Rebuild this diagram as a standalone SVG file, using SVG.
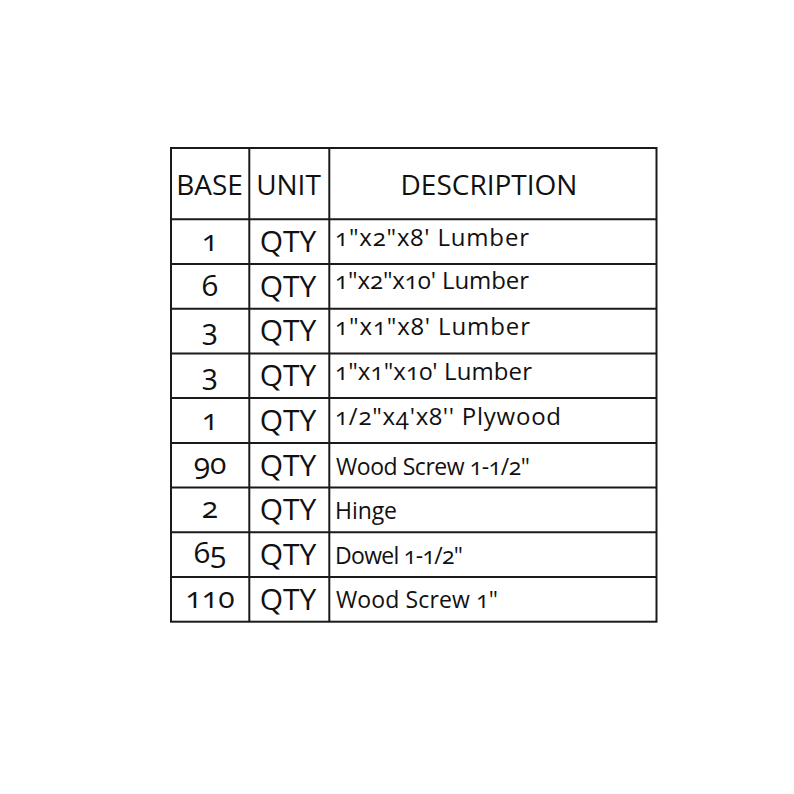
<svg xmlns="http://www.w3.org/2000/svg" width="794" height="794" viewBox="0 0 794 794">
<style>
text{font-family:"Open Sans","Noto Sans","DejaVu Sans",sans-serif;fill:#111;font-variant-numeric:oldstyle-nums;font-feature-settings:"onum" 1}
.h{font-size:28px;text-anchor:middle}
.n{font-size:30px;text-anchor:middle}
.q{font-size:30px;text-anchor:middle}
.d{font-size:24px}
.e{font-size:23px}
.grid line,.grid rect{stroke:#1a1a1a;stroke-width:2;fill:none}
</style>
<rect width="794" height="794" fill="#fff"/>
<g id="grid" class="grid">
<rect x="171" y="148" width="485.5" height="473.7"/>
<line x1="249.3" y1="148" x2="249.3" y2="621.7"/>
<line x1="329.3" y1="148" x2="329.3" y2="621.7"/>
<line x1="171" y1="219.3" x2="656.5" y2="219.3"/>
<line x1="171" y1="264" x2="656.5" y2="264"/>
<line x1="171" y1="308.7" x2="656.5" y2="308.7"/>
<line x1="171" y1="353.4" x2="656.5" y2="353.4"/>
<line x1="171" y1="398.1" x2="656.5" y2="398.1"/>
<line x1="171" y1="442.9" x2="656.5" y2="442.9"/>
<line x1="171" y1="487.6" x2="656.5" y2="487.6"/>
<line x1="171" y1="532.3" x2="656.5" y2="532.3"/>
<line x1="171" y1="577" x2="656.5" y2="577"/>
</g>
<g id="header">
<text class="h" x="209.5" y="195">BASE</text>
<text class="h" x="288.5" y="195">UNIT</text>
<text class="h" x="489" y="195">DESCRIPTION</text>
</g>
<g id="row1"><text class="n" x="210" y="251">1</text><text class="q" x="288" y="252">QTY</text><text class="d" x="335" y="245.5" textLength="194" lengthAdjust="spacing">1"x2"x8' Lumber</text></g>
<g id="row2"><text class="n" x="210" y="295.7">6</text><text class="q" x="288" y="296.7">QTY</text><text class="d" x="335" y="289" textLength="194" lengthAdjust="spacing">1"x2"x10' Lumber</text></g>
<g id="row3"><text class="n" x="210" y="340.4">3</text><text class="q" x="288" y="341.4">QTY</text><text class="d" x="335" y="335.2" textLength="195" lengthAdjust="spacing">1"x1"x8' Lumber</text></g>
<g id="row4"><text class="n" x="210" y="385.1">3</text><text class="q" x="288" y="386.1">QTY</text><text class="d" x="335" y="380" textLength="197" lengthAdjust="spacing">1"x1"x10' Lumber</text></g>
<g id="row5"><text class="n" x="210" y="429.9">1</text><text class="q" x="288" y="430.9">QTY</text><text class="d" x="335" y="424.9" textLength="226" lengthAdjust="spacing">1/2"x4'x8'' Plywood</text></g>
<g id="row6"><text class="n" x="210" y="473.6">90</text><text class="q" x="288" y="475.6">QTY</text><text class="e" x="336" y="474.5" textLength="194" lengthAdjust="spacing">Wood Screw 1-1/2"</text></g>
<g id="row7"><text class="n" x="210" y="518.3">2</text><text class="q" x="288" y="520.3">QTY</text><text class="e" x="335" y="518.5" textLength="62" lengthAdjust="spacing">Hinge</text></g>
<g id="row8"><text class="n" x="210" y="563">65</text><text class="q" x="288" y="565">QTY</text><text class="e" x="335" y="564" textLength="128" lengthAdjust="spacing">Dowel 1-1/2"</text></g>
<g id="row9"><text class="n" x="210" y="607.7">110</text><text class="q" x="288" y="609.7">QTY</text><text class="e" x="336" y="608.2" textLength="162" lengthAdjust="spacing">Wood Screw 1"</text></g>
</svg>
